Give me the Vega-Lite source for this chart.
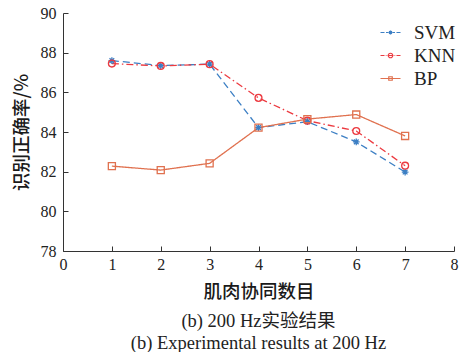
{
  "$schema": "https://vega.github.io/schema/vega-lite/v6.json",
  "width": 391,
  "height": 238,
  "autosize": "none",
  "padding": {"left": 63, "top": 13, "right": 9, "bottom": 101},
  "background": "white",
  "config": {
    "view": {"stroke": null},
    "font": "Liberation Serif",
    "axis": {"grid": false, "domainColor": "#333", "tickColor": "#333", "labelColor": "#222", "titleColor": "#1a1a1a", "labelFont": "Liberation Serif", "labelFontSize": 16, "titleFont": "Noto Sans CJK SC", "titleFontSize": 18.5, "titleFontWeight": 500, "tickSize": -5, "domainWidth": 1, "tickWidth": 1}
  },
  "title": {
    "text": ["(b) 200 Hz实验结果", "(b) Experimental results at 200 Hz"],
    "orient": "bottom",
    "anchor": "middle",
    "font": "Liberation Serif, Noto Sans CJK SC",
    "fontSize": 18.5,
    "fontWeight": "normal",
    "color": "#222",
    "offset": 11,
    "lineHeight": 22
  },
  "data": {
    "values": [
      {"n": 1, "method": "SVM", "rate": 87.6},
      {"n": 2, "method": "SVM", "rate": 87.35},
      {"n": 3, "method": "SVM", "rate": 87.42},
      {"n": 4, "method": "SVM", "rate": 84.22},
      {"n": 5, "method": "SVM", "rate": 84.52},
      {"n": 6, "method": "SVM", "rate": 83.5},
      {"n": 7, "method": "SVM", "rate": 81.98},
      {"n": 1, "method": "KNN", "rate": 87.45},
      {"n": 2, "method": "KNN", "rate": 87.33},
      {"n": 3, "method": "KNN", "rate": 87.42},
      {"n": 4, "method": "KNN", "rate": 85.72},
      {"n": 5, "method": "KNN", "rate": 84.57},
      {"n": 6, "method": "KNN", "rate": 84.05},
      {"n": 7, "method": "KNN", "rate": 82.3},
      {"n": 1, "method": "BP", "rate": 82.28},
      {"n": 2, "method": "BP", "rate": 82.08},
      {"n": 3, "method": "BP", "rate": 82.42},
      {"n": 4, "method": "BP", "rate": 84.22},
      {"n": 5, "method": "BP", "rate": 84.65},
      {"n": 6, "method": "BP", "rate": 84.88},
      {"n": 7, "method": "BP", "rate": 83.8}
    ]
  },
  "encoding": {
    "x": {"field": "n", "type": "quantitative", "scale": {"domain": [0, 8], "nice": false}, "axis": {"values": [0,1,2,3,4,5,6,7,8], "title": "肌肉协同数目", "labelPadding": 10, "titlePadding": 10, "labelFlush": false}},
    "y": {"field": "rate", "type": "quantitative", "scale": {"domain": [78, 90], "nice": false, "zero": false}, "axis": {"values": [78,80,82,84,86,88,90], "title": "识别正确率/%", "labelPadding": 12, "titlePadding": 9, "labelFlush": false}}
  },
  "resolve": {"scale": {"shape": "independent", "size": "independent", "color": "independent"}, "legend": {"color": "independent", "shape": "independent"}},
  "layer": [
    {
      "mark": {"type": "line", "strokeWidth": 1.3},
      "encoding": {
        "color": {"field": "method", "type": "nominal", "scale": {"domain": ["SVM", "KNN", "BP"], "range": ["#3c7fc4", "#ec3a40", "#e0714f"]}, "legend": null},
        "strokeDash": {"field": "method", "type": "nominal", "scale": {"domain": ["SVM", "KNN", "BP"], "range": [[7, 4], [7, 3, 1.5, 3], [1, 0]]}, "legend": null}
      }
    },
    {
      "mark": {"type": "point", "filled": false, "strokeWidth": 1.3, "opacity": 1},
      "encoding": {
        "color": {"field": "method", "type": "nominal", "scale": {"domain": ["SVM", "KNN", "BP"], "range": ["#3c7fc4", "#ec3a40", "#e0714f"]}, "legend": null},
        "shape": {"field": "method", "type": "nominal", "scale": {"domain": ["SVM", "KNN", "BP"], "range": ["M-1,0H1M0,-1V1M-0.7,-0.7L0.7,0.7M-0.7,0.7L0.7,-0.7", "circle", "square"]}, "legend": null},
        "size": {"field": "method", "type": "nominal", "scale": {"domain": ["SVM", "KNN", "BP"], "range": [45, 50, 28]}, "legend": null}
      }
    },
    {
      "mark": {"type": "point", "filled": false, "opacity": 0, "size": 225, "strokeWidth": 1.2},
      "encoding": {
        "shape": {"field": "method", "type": "nominal", "scale": {"domain": ["SVM", "KNN", "BP"], "range": [
          "M-2,0H-1.2M-0.9,0H-0.45M0.45,0H0.9M1.2,0H2M-0.4,0H0.4M0,-0.4V0.4M-0.28,-0.28L0.28,0.28M-0.28,0.28L0.28,-0.28",
          "M-2,0H-1.2M-0.95,0H-0.8M-0.6,0H0.6M0.8,0H0.95M1.2,0H2M-0.45,0A0.45,0.45 0 1,0 0.45,0A0.45,0.45 0 1,0 -0.45,0",
          "M-2,0H2M-0.35,-0.35H0.35V0.35H-0.35Z"
        ]}, "legend": {"orient": "none", "legendX": 318, "legendY": 10, "title": null, "symbolOpacity": 1, "symbolStrokeWidth": 1.2, "labelFont": "Liberation Serif", "labelFontSize": 19, "labelColor": "#222", "labelOffset": 14, "rowPadding": 3}},
        "color": {"field": "method", "type": "nominal", "scale": {"domain": ["SVM", "KNN", "BP"], "range": ["#3c7fc4", "#ec3a40", "#e0714f"]}, "legend": {"orient": "none", "legendX": 318, "legendY": 10, "title": null, "symbolOpacity": 1, "symbolStrokeWidth": 1.2, "labelFont": "Liberation Serif", "labelFontSize": 19, "labelColor": "#222", "labelOffset": 14, "rowPadding": 3}}
      }
    }
  ]
}
